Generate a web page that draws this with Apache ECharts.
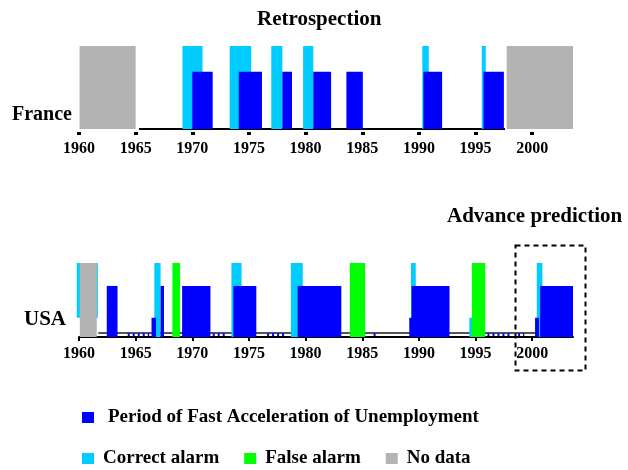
<!DOCTYPE html>
<html>
<head>
<meta charset="utf-8">
<script src="https://cdn.jsdelivr.net/npm/echarts@6/dist/echarts.min.js"></script>
<style>
  html, body { margin: 0; padding: 0; background: #fff; }
  #main { width: 628px; height: 470px; }
</style>
</head>
<body>
<div id="main"></div>
<script>
// 年份区间数据 [起始年, 结束年, 高度, (底部)]
var tickYears = [1960, 1965, 1970, 1975, 1980, 1985, 1990, 1995, 2000];
var FULL = 1, MID = 0.69, LOW = 0.26;

// France (retrospection)
var frNoData = [[1960.05, 1965.0, FULL], [1997.75, 2003.6, FULL]];
var frCorrect = [[1969.13, 1970.9, FULL], [1973.3, 1975.2, FULL], [1976.97, 1977.95, FULL],
                 [1979.78, 1980.68, FULL], [1990.3, 1990.87, FULL], [1995.55, 1995.9, FULL]];
var frPeriod = [[1970.0, 1971.8, MID], [1974.1, 1976.15, MID], [1977.95, 1978.8, MID],
                [1980.68, 1982.25, MID], [1983.6, 1985.05, MID], [1990.4, 1992.05, MID],
                [1995.7, 1997.5, MID]];
var frBaseline = [[1965.3, 1997.6, 0]];

// USA (retrospection + advance prediction)
var usNoData = [[1960.07, 1961.57, FULL]];
var usCorrect = [[1959.8, 1961.66, FULL, LOW], [1966.65, 1967.2, FULL], [1973.45, 1974.35, FULL],
                 [1978.7, 1979.75, FULL], [1989.3, 1989.72, FULL], [2000.4, 2000.9, FULL],
                 [1984.95, 1985.25, LOW], [1994.45, 1994.72, LOW]];
var usFalse = [[1968.24, 1968.92, FULL], [1983.9, 1985.25, FULL], [1994.67, 1995.85, FULL]];
var usPeriod = [[1962.45, 1963.4, MID], [1967.2, 1967.5, MID], [1969.1, 1971.6, MID],
                [1973.62, 1975.65, MID], [1979.3, 1983.15, MID], [1989.35, 1992.7, MID],
                [2000.7, 2003.6, MID], [1966.4, 1966.8, LOW], [1989.15, 1989.45, LOW],
                [2000.25, 2000.6, LOW]];
var usBaseline = [[1961.7, 2000.3, 0.055]];
var usDots = [[1964.3, 1966.2, 0.03], [1971.8, 1973.0, 0.03], [1976.6, 1978.3, 0.03],
              [1986.0, 1986.4, 0.03], [1996.05, 1998.0, 0.03], [1998.75, 1999.3, 0.03]];

var NAME_P = 'Period of Fast Acceleration of Unemployment';
var NAME_C = 'Correct alarm';
var NAME_F = 'False alarm';
var NAME_N = 'No data';

var serif = 'Liberation Serif';

var chartDom = document.getElementById('main');
var myChart = echarts.init(chartDom, null, { renderer: 'canvas' });

function renderBar(params, api) {
    var p0 = api.coord([api.value(0), api.value(2)]);
    var p1 = api.coord([api.value(1), api.value(3)]);
    return {
        type: 'rect',
        shape: { x: p0[0], y: p0[1], width: p1[0] - p0[0], height: p1[1] - p0[1] },
        style: { fill: api.visual('color') }
    };
}

function bars(name, data, idx, color, z) {
    return {
        name: name,
        type: 'custom',
        xAxisIndex: idx,
        yAxisIndex: idx,
        z: z,
        silent: true,
        itemStyle: { color: color },
        renderItem: renderBar,
        encode: { x: [0, 1], y: [2, 3] },
        data: data.map(function (d) { return [d[0], d[1], d[2], d.length > 3 ? d[3] : 0]; })
    };
}

function segs(data, idx, color, width, dash, z) {
    return {
        type: 'custom',
        xAxisIndex: idx,
        yAxisIndex: idx,
        z: z,
        silent: true,
        encode: { x: [0, 1], y: 2 },
        renderItem: function (params, api) {
            var a = api.coord([api.value(0), api.value(2)]);
            var b = api.coord([api.value(1), api.value(2)]);
            return {
                type: 'line',
                shape: { x1: a[0], y1: a[1], x2: b[0], y2: b[1] },
                style: { stroke: color, lineWidth: width, lineDash: dash || null }
            };
        },
        data: data
    };
}

var labelStyle = { fontFamily: serif, fontWeight: 'bold', fontSize: 16, color: '#000' };

function xAxisFor(idx, withLine) {
    return {
        type: 'value',
        gridIndex: idx,
        min: 1960,
        max: 2003.6,
        interval: 5,
        offset: withLine ? 0 : 3,
        splitLine: { show: false },
        axisLine: { show: withLine, onZero: false, lineStyle: { color: '#000', width: 2 } },
        axisTick: withLine
            ? { show: true, length: 4, lineStyle: { color: '#000', width: 2 } }
            : { show: true, length: 3, lineStyle: { color: '#000', width: 4 } },
        axisLabel: Object.assign({ margin: 9, showMaxLabel: false,
            formatter: function (v) { return tickYears.indexOf(v) >= 0 ? String(v) : ''; } }, labelStyle)
    };
}

function yAxisFor(idx) {
    return { type: 'value', gridIndex: idx, min: 0, max: 1, show: false };
}

function legendText(pad) {
    return { fontFamily: serif, fontWeight: 'bold', fontSize: 19, color: '#000', padding: [0, 0, 0, pad] };
}

var option = {
    backgroundColor: '#fff',
    animation: false,
    grid: [
        { left: 79, width: 494, top: 46, height: 83 },
        { left: 79, width: 494, top: 263, height: 74 }
    ],
    xAxis: [xAxisFor(0, false), xAxisFor(1, true)],
    yAxis: [yAxisFor(0), yAxisFor(1)],
    legend: [
        {
            data: [NAME_P],
            left: 82, top: 408, padding: 0,
            icon: 'rect', itemWidth: 12, itemHeight: 11,
            selectedMode: false,
            textStyle: legendText(9)
        },
        {
            data: [NAME_C, NAME_F, NAME_N],
            left: 82, top: 449, padding: 0,
            icon: 'rect', itemWidth: 12, itemHeight: 11, itemGap: 25,
            selectedMode: false,
            textStyle: legendText(4)
        }
    ],
    graphic: [
        { type: 'text', left: 257, top: 9,
          style: { text: 'Retrospection', font: 'bold 21px "Liberation Serif"', fill: '#000' } },
        { type: 'text', left: 447, top: 206,
          style: { text: 'Advance prediction', font: 'bold 21px "Liberation Serif"', fill: '#000' } },
        { type: 'text', left: 12, top: 105,
          style: { text: 'France', font: 'bold 20px "Liberation Serif"', fill: '#000' } },
        { type: 'text', left: 24, top: 309,
          style: { text: 'USA', font: 'bold 21px "Liberation Serif"', fill: '#000' } },
        { type: 'rect', left: 513, top: 243, z: 100,
          shape: { width: 70, height: 125 },
          style: { fill: 'none', stroke: '#000', lineWidth: 2, lineDash: [5, 4] } }
    ],
    series: [
        segs(frBaseline, 0, '#000', 2, null, 1),
        bars(NAME_C, frCorrect, 0, '#00CCFF', 2),
        bars(NAME_P, frPeriod, 0, '#0000FF', 3),
        bars(NAME_N, frNoData, 0, '#B3B3B3', 5),

        segs(usBaseline, 1, '#555', 2, null, 1),
        segs(usDots, 1, '#0000FF', 3, [2, 3], 1),
        bars(NAME_C, usCorrect, 1, '#00CCFF', 2),
        bars(NAME_P, usPeriod, 1, '#0000FF', 3),
        bars(NAME_F, usFalse, 1, '#00FF00', 4),
        bars(NAME_N, usNoData, 1, '#B3B3B3', 5)
    ]
};

myChart.setOption(option);
window.addEventListener('resize', function () { myChart.resize(); });
</script>
</body>
</html>
